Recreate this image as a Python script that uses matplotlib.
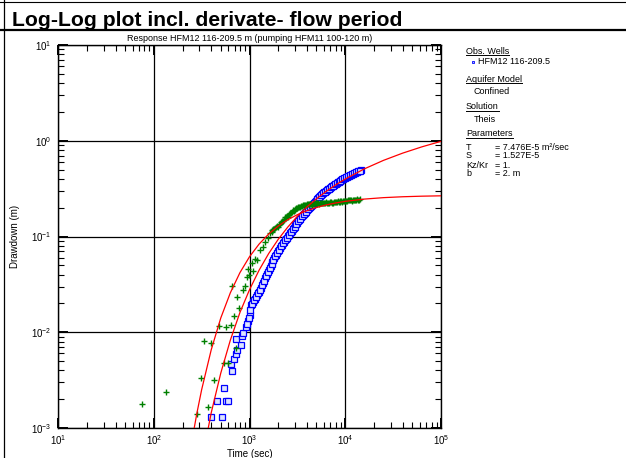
import numpy as np
import matplotlib
matplotlib.use("Agg")
import matplotlib.pyplot as plt
from matplotlib.lines import Line2D
from matplotlib.ticker import LogLocator, NullFormatter

plt.rcParams['font.family'] = ['Liberation Sans', 'DejaVu Sans']

# observed drawdown (log10 of time in s, log10 of drawdown in m)
obs_logt = [2.598, 2.710, 2.657, 2.755, 2.775, 2.731, 2.814, 2.804, 2.838, 2.859,
            2.873, 2.908, 2.859, 2.922, 2.935,
            2.96, 2.98, 3.00, 3.02, 3.04, 3.06, 3.08, 3.10, 3.12, 3.14,
            3.16, 3.18, 3.20, 3.22, 3.24, 3.26, 3.28, 3.30, 3.32, 3.34,
            3.36, 3.38, 3.40, 3.42, 3.44, 3.46, 3.48, 3.50, 3.52, 3.54,
            3.56, 3.58, 3.60, 3.62, 3.64, 3.66, 3.68, 3.70, 3.72, 3.74,
            3.76, 3.78, 3.80, 3.82, 3.84, 3.86, 3.88, 3.90, 3.92, 3.94,
            3.96, 3.98, 4.00, 4.02, 4.04, 4.06, 4.08, 4.10, 4.12, 4.14, 4.16]
obs_logs = [-2.882, -2.882, -2.715, -2.715, -2.715, -2.579, -2.402, -2.335, -2.276, -2.227,
            -2.185, -2.136, -2.067, -2.039, -2.011,
            -1.950, -1.880, -1.815, -1.720, -1.680, -1.650, -1.615, -1.575, -1.535, -1.486,
            -1.438, -1.393, -1.349, -1.306, -1.266, -1.227, -1.188, -1.154, -1.119, -1.085,
            -1.054, -1.025, -0.996, -0.967, -0.939, -0.910, -0.882, -0.854, -0.827, -0.800,
            -0.774, -0.751, -0.728, -0.706, -0.683, -0.660, -0.638, -0.615, -0.594, -0.576,
            -0.558, -0.540, -0.522, -0.506, -0.491, -0.476, -0.461, -0.447, -0.434, -0.422,
            -0.410, -0.397, -0.386, -0.375, -0.364, -0.353, -0.343, -0.334, -0.325, -0.316, -0.307]
# further logger readings in the dense late-time part
obs_logt_b = [2.97, 2.99, 3.01, 3.03, 3.05, 3.07, 3.09, 3.11, 3.13, 3.15,
              3.17, 3.19, 3.21, 3.23, 3.25, 3.27, 3.29, 3.31, 3.33, 3.35,
              3.37, 3.39, 3.41, 3.43, 3.45, 3.47, 3.49, 3.51, 3.53, 3.55,
              3.57, 3.59, 3.61, 3.63, 3.65, 3.67, 3.69, 3.71, 3.73, 3.75,
              3.77, 3.79, 3.81, 3.83, 3.85, 3.87, 3.89, 3.91, 3.93, 3.95,
              3.97, 3.99, 4.01, 4.03, 4.05, 4.07, 4.09, 4.11, 4.13, 4.15]
obs_logs_b = [-1.915, -1.848, -1.768, -1.700, -1.665, -1.633, -1.595, -1.555, -1.511, -1.462,
              -1.416, -1.371, -1.328, -1.286, -1.247, -1.208, -1.171, -1.137, -1.102, -1.070,
              -1.040, -1.011, -0.982, -0.953, -0.925, -0.896, -0.868, -0.841, -0.814, -0.787,
              -0.763, -0.740, -0.717, -0.695, -0.672, -0.649, -0.627, -0.605, -0.585, -0.567,
              -0.549, -0.531, -0.514, -0.499, -0.484, -0.469, -0.454, -0.441, -0.428, -0.416,
              -0.404, -0.392, -0.381, -0.370, -0.359, -0.348, -0.339, -0.330, -0.321, -0.312]

# observed derivative (log10 values)
der_logt = [1.877, 2.128, 2.449, 2.490, 2.525, 2.570, 2.598, 2.629, 2.685, 2.734,
            2.755, 2.775, 2.804, 2.838, 2.859, 2.890, 2.873, 2.929, 2.820, 2.953,
            2.971, 2.998, 2.987, 3.040, 3.023, 3.057, 3.081, 3.110, 3.144, 3.162,
            3.196, 3.214,
            3.23, 3.25, 3.27, 3.29, 3.30, 3.31, 3.33, 3.35, 3.36, 3.37, 3.39, 3.40,
            3.41, 3.43, 3.44, 3.45, 3.47, 3.49, 3.51, 3.53, 3.55, 3.57, 3.59, 3.61,
            3.63, 3.65, 3.67, 3.69, 3.71, 3.73, 3.75, 3.77, 3.79, 3.81, 3.83, 3.85,
            3.87, 3.89, 3.91, 3.93, 3.95, 3.97, 3.99, 4.01, 4.03, 4.05, 4.07, 4.09,
            4.11, 4.13, 4.15]
der_logs = [-2.749, -2.621, -2.857, -2.478, -2.088, -2.778, -2.112, -2.502, -1.935, -2.318,
            -1.942, -2.324, -1.927, -1.830, -2.168, -1.750, -1.629, -1.559, -1.517, -1.517,
            -1.426, -1.402, -1.343, -1.357, -1.280, -1.238, -1.245, -1.141, -1.107, -1.054,
            -1.019, -0.967,
            -0.955, -0.925, -0.915, -0.890, -0.905, -0.880, -0.850, -0.840, -0.825, -0.800, -0.785, -0.800,
            -0.765, -0.752, -0.740, -0.728, -0.720, -0.705, -0.695, -0.690, -0.678, -0.672, -0.668, -0.665,
            -0.660, -0.668, -0.660, -0.655, -0.650, -0.658, -0.652, -0.648, -0.655, -0.646, -0.650, -0.642,
            -0.648, -0.640, -0.636, -0.642, -0.632, -0.636, -0.628, -0.632, -0.624, -0.620, -0.626, -0.618,
            -0.614, -0.618, -0.610]
der_logt_b = [3.24, 3.26, 3.28, 3.32, 3.34, 3.38, 3.42, 3.46, 3.48, 3.50, 3.52, 3.54, 3.56,
              3.58, 3.60, 3.62, 3.64, 3.66, 3.68, 3.70, 3.72, 3.74, 3.76, 3.78, 3.80, 3.82,
              3.84, 3.86, 3.88, 3.90, 3.92, 3.94, 3.96, 3.98, 4.00, 4.02, 4.04, 4.06, 4.08,
              4.10, 4.12, 4.14]
der_logs_b = [-0.935, -0.918, -0.900, -0.865, -0.838, -0.795, -0.758, -0.730, -0.712, -0.700,
              -0.688, -0.683, -0.675, -0.670, -0.663, -0.662, -0.656, -0.664, -0.652, -0.658,
              -0.648, -0.655, -0.645, -0.652, -0.644, -0.648, -0.640, -0.646, -0.638, -0.642,
              -0.634, -0.638, -0.630, -0.634, -0.626, -0.628, -0.620, -0.624, -0.615, -0.620,
              -0.612, -0.615]

# Theis type curve fit (drawdown and derivative)
fit_t = [251.2, 281.8, 316.2, 398.1, 501.2, 631.0, 794.3, 1000, 1259, 1585, 1995,
         2512, 3162, 3981, 5012, 6310, 7943, 10000, 15850, 25120, 39810, 63100, 100000]
fit_s = [0.000113, 0.000232, 0.000439, 0.001439, 0.003745, 0.00828, 0.01607, 0.0278,
         0.04445, 0.0663, 0.0934, 0.1255, 0.1626, 0.2037, 0.2478, 0.296, 0.3459, 0.3985,
         0.509, 0.6244, 0.7428, 0.8636, 0.9857]
fit_ds = [0.000747, 0.001417, 0.002506, 0.006546, 0.01409, 0.02585, 0.04191, 0.06145,
          0.0833, 0.1061, 0.1286, 0.1498, 0.1691, 0.1861, 0.2010, 0.2135, 0.2241, 0.2328,
          0.2459, 0.2546, 0.2601, 0.2637, 0.2660]

title = "Log-Log plot incl. derivate- flow period"
subtitle = "Response HFM12 116-209.5 m (pumping HFM11 100-120 m)"

W, H = 626, 458
fig = plt.figure(figsize=(W / 100, H / 100), dpi=100)
ax = fig.add_axes([58 / W, 1 - 428 / H, 383 / W, 383 / H])

sq = dict(ls='none', marker='s', ms=4, mfc='#dde4ff', mec='#0000ff', mew=0.9, zorder=3)
ax.plot(10 ** np.array(obs_logt), 10 ** np.array(obs_logs), **sq)
ax.plot(10 ** np.array(obs_logt_b), 10 ** np.array(obs_logs_b), **sq)
pl = dict(ls='none', marker='+', ms=4.5, color='#008000', mew=1.0, zorder=3)
ax.plot(10 ** np.array(der_logt), 10 ** np.array(der_logs), **pl)
ax.plot(10 ** np.array(der_logt_b), 10 ** np.array(der_logs_b), **pl)
ax.plot(fit_t, fit_s, '-', color='#ff0000', lw=0.9, zorder=4)
ax.plot(fit_t, fit_ds, '-', color='#ff0000', lw=0.9, zorder=4)

ax.set_xscale('log')
ax.set_yscale('log')
ax.set_xlim(10, 1e5)
ax.set_ylim(1e-3, 10)
ax.xaxis.set_major_locator(LogLocator(base=10, numticks=10))
ax.yaxis.set_major_locator(LogLocator(base=10, numticks=10))
ax.xaxis.set_minor_locator(LogLocator(base=10, subs=np.arange(2, 10), numticks=20))
ax.yaxis.set_minor_locator(LogLocator(base=10, subs=np.arange(2, 10), numticks=20))
ax.xaxis.set_minor_formatter(NullFormatter())
ax.yaxis.set_minor_formatter(NullFormatter())
ax.grid(True, which='major', color='k', lw=0.9)
ax.tick_params(which='both', direction='in', top=True, right=True, labelsize=7, colors='k')
ax.tick_params(which='major', length=7, width=1.4)
ax.tick_params(which='minor', length=4, width=0.8)
ax.tick_params(axis='x', pad=4)
ax.tick_params(axis='y', pad=5)
for sp in ax.spines.values():
    sp.set_linewidth(1.0)

ax.set_xlabel("Time (sec)", fontsize=7, labelpad=1)
ax.set_ylabel("Drawdown (m)", fontsize=7, labelpad=8)
ax.set_title(subtitle, fontsize=6.5, pad=3)

# banner and frame
fig.text(12 / W, 1 - 26 / H, title, fontsize=15.2, fontweight='bold')
fig.add_artist(Line2D([0, 1], [1 - 1.5 / H, 1 - 1.5 / H], transform=fig.transFigure, color='k', lw=0.8))
fig.add_artist(Line2D([0, 1], [1 - 29.5 / H, 1 - 29.5 / H], transform=fig.transFigure, color='k', lw=1.6))
fig.add_artist(Line2D([3.5 / W, 3.5 / W], [0, 1], transform=fig.transFigure, color='k', lw=0.9))

# side panel
fs = 6.5
heads = [("Obs. Wells", 51), ("Aquifer Model", 79), ("Solution", 107), ("Parameters", 134)]
fig.canvas.draw()
rend = fig.canvas.get_renderer()
for txt, yy in heads:
    t = fig.text(466 / W, 1 - yy / H, txt, fontsize=fs, va='center')
    bb = t.get_window_extent(rend)
    fig.add_artist(Line2D([bb.x0 / W, bb.x1 / W], [1 - (yy + 4) / H, 1 - (yy + 4) / H],
                          transform=fig.transFigure, color='k', lw=0.7))

fig.add_artist(Line2D([473 / W], [1 - 62 / H], transform=fig.transFigure, marker='s', ms=2,
                      mfc='#aabbff', mec='#0000ff', mew=0.6))
fig.text(478.5 / W, 1 - 62 / H, "HFM12 116-209.5", fontsize=fs, va='center')
fig.text(474 / W, 1 - 91.5 / H, "Confined", fontsize=fs, va='center')
fig.text(474 / W, 1 - 119 / H, "Theis", fontsize=fs, va='center')

params = [("T", "= 7.476E-5 m\u00b2/sec", 147), ("S", "= 1.527E-5", 156),
          ("Kz/Kr", "= 1.", 165), ("b", "= 2. m", 174)]
for lab, val, yy in params:
    fig.text(466 / W, 1 - yy / H, lab, fontsize=fs, va='center')
    fig.text(495 / W, 1 - yy / H, val, fontsize=fs, va='center')

fig.savefig("out.png", dpi=100)
